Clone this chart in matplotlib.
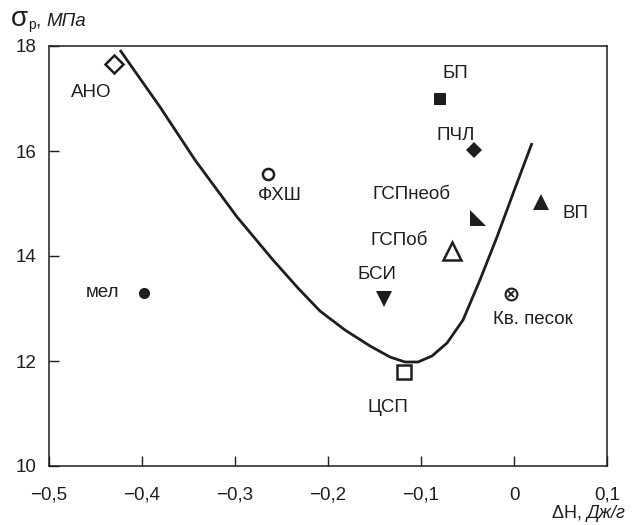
import matplotlib.pyplot as plt
from matplotlib.path import Path

plt.rcParams["font.family"] = ["Liberation Sans", "DejaVu Sans"]

INK = "#1e1e1e"

# boundary curve, sigma_p vs dH
curve_dh = [-0.4237, -0.3806, -0.3430, -0.2978, -0.2591, -0.2323, -0.2086,
            -0.1817, -0.1548, -0.1333, -0.1172, -0.1032, -0.0882, -0.0720,
            -0.0548, -0.0366, -0.0183, 0.0000, 0.0194]
curve_sigma = [17.924, 16.838, 15.829, 14.743, 13.924, 13.390, 12.952,
               12.590, 12.286, 12.076, 11.981, 11.981, 12.095, 12.343,
               12.781, 13.543, 14.362, 15.238, 16.152]

# materials
names = ["АНО", "мел", "ФХШ", "БП", "ПЧЛ", "ГСПнеоб", "ВП", "ГСПоб", "БСИ",
         "Кв. песок", "ЦСП"]
dh = [-0.430, -0.398, -0.265, -0.0796, -0.0427, -0.039, 0.0287, -0.0667,
      -0.1395, -0.0035, -0.1183]
sigma = [17.66, 13.29, 15.56, 17.00, 16.01, 14.72, 15.03, 14.10, 13.19,
         13.27, 11.79]

# label anchors (baseline) and alignment
label_x = [-0.4541, -0.4423, -0.2521, -0.0629, -0.0631, -0.068, 0.0663,
           -0.0928, -0.1473, -0.0222, -0.136]
label_y = [17.03, 13.22, 15.067, 17.40, 16.21, 15.086, 14.72, 14.21, 13.56,
           12.70, 11.034]
label_ha = ["center", "center", "center", "center", "center", "right",
            "center", "right", "center", "left", "center"]

corner = Path([(-1, 1), (-1, -1), (1, -1), (-1, 1)],
              [Path.MOVETO, Path.LINETO, Path.LINETO, Path.CLOSEPOLY])

styles = {
    "АНО": dict(marker="D", ms=9.0, mfc="white", mew=1.8),
    "мел": dict(marker="o", ms=8.0, mfc=INK, mew=0),
    "ФХШ": dict(marker="o", ms=8.0, mfc="white", mew=1.8),
    "БП": dict(marker="s", ms=8.5, mfc=INK, mew=0),
    "ПЧЛ": dict(marker="D", ms=8.3, mfc=INK, mew=0),
    "ГСПнеоб": dict(marker=corner, ms=11.5, mfc=INK, mew=0),
    "ВП": dict(marker="^", ms=11.5, mfc=INK, mew=0),
    "ГСПоб": dict(marker="^", ms=13.0, mfc="white", mew=1.8),
    "БСИ": dict(marker="v", ms=11.5, mfc=INK, mew=0),
    "Кв. песок": dict(marker="o", ms=8.5, mfc="white", mew=1.5),
    "ЦСП": dict(marker="s", ms=9.5, mfc="white", mew=1.8),
}

xticks = [-0.5, -0.4, -0.3, -0.2, -0.1, 0.0, 0.1]
xtick_labels = ["\u22120,5", "\u22120,4", "\u22120,3", "\u22120,2", "\u22120,1",
                "0", "0,1"]
yticks = [10, 12, 14, 16, 18]

FS = 13.5


def main() -> None:
    W, H = 632, 525
    fig = plt.figure(figsize=(W / 100, H / 100), dpi=100)
    ax = fig.add_axes([49 / W, 1 - 466 / H, 558 / W, 420 / H])

    ax.plot(curve_dh, curve_sigma, color=INK, lw=2.0, solid_capstyle="butt",
            solid_joinstyle="round")

    for name, x, y in zip(names, dh, sigma):
        st = styles[name]
        ax.plot(x, y, ls="none", color=INK, mec=INK, **st)
        if name == "Кв. песок":
            ax.plot(x, y, ls="none", marker="x", ms=4.0, mew=1.3, color=INK)

    for name, x, y, ha in zip(names, label_x, label_y, label_ha):
        ax.text(x, y, name, ha=ha, va="baseline", fontsize=FS, color=INK)

    ax.set_xlim(-0.5, 0.1)
    ax.set_ylim(10, 18)
    ax.set_xticks(xticks)
    ax.set_xticklabels(xtick_labels)
    ax.set_yticks(yticks)
    ax.tick_params(direction="in", length=7, width=1.0, colors=INK,
                   labelsize=FS)
    ax.tick_params(axis="x", pad=15)
    ax.tick_params(axis="y", pad=9)
    for sp in ax.spines.values():
        sp.set_linewidth(1.1)
        sp.set_color(INK)

    renderer = fig.canvas.get_renderer()

    # axis titles built from pieces laid side by side
    def chain(px, py, pieces):
        for s, dy, kw in pieces:
            t = fig.text(px / W, 1 - (py + dy) / H, s, va="baseline",
                         color=INK, **kw)
            px = t.get_window_extent(renderer).x1

    chain(11, 26.5, [("σ", 0, dict(fontsize=20)),
                     ("р", 3, dict(fontsize=10)),
                     (", ", 0, dict(fontsize=FS)),
                     ("МПа", 0, dict(fontsize=FS, style="italic"))])
    chain(552, 518, [("ΔН, ", 0, dict(fontsize=13)),
                     ("Дж/г", 0, dict(fontsize=13, style="italic"))])

    fig.savefig("out.png", dpi=100)
    plt.close(fig)


if __name__ == "__main__":
    main()
